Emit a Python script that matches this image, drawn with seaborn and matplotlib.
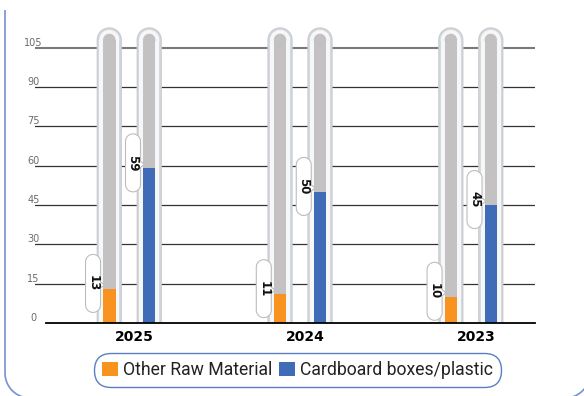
import numpy as np
import pandas as pd
import matplotlib
matplotlib.use("Agg")
import matplotlib.pyplot as plt
import matplotlib.transforms as mtransforms
from matplotlib.patches import Ellipse, PathPatch, Patch
from matplotlib.path import Path
import seaborn as sns

# ---- data -------------------------------------------------------------
years = ["2025", "2024", "2023"]
other_raw = [13, 11, 10]
cardboard = [59, 50, 45]
series_names = ["Other Raw Material", "Cardboard boxes/plastic"]
y_ticks = [0, 15, 30, 45, 60, 75, 90, 105]
tube_capacity = 108          # height of the empty tube behind each bar

# ---- style ------------------------------------------------------------
ORANGE = "#F7931E"
BLUE = "#3F6CB7"
TRACK = "#C3C1C1"
FRAME_BLUE = "#5A7EC6"

W, H, DPI = 584, 396, 100
fig = plt.figure(figsize=(W / DPI, H / DPI), dpi=DPI)
ax_left, ax_right, ax_bottom, ax_top = 35, 535, 323, 14   # pixel box of the plot area
ax = fig.add_axes([ax_left / W, (H - ax_bottom) / H,
                   (ax_right - ax_left) / W, (ax_bottom - ax_top) / H])

XLIM = (-0.552, 2.376)
YLIM = (0, 117.9)
kx = (ax_right - ax_left) / (XLIM[1] - XLIM[0])     # px per category unit
ky = (ax_bottom - ax_top) / (YLIM[1] - YLIM[0])     # px per value unit

df = pd.DataFrame({
    "year": years * 2,
    "series": [series_names[0]] * len(years) + [series_names[1]] * len(years),
    "value": other_raw + cardboard,
})
tubes = df.assign(value=tube_capacity)

GROUP_W = 0.468
slot_px = GROUP_W / 2 * kx


def draw_bars(data, width_px, colors, z, **kw):
    before = len(ax.patches)
    sns.barplot(data=data, x="year", y="value", hue="series",
                order=years, hue_order=series_names, palette=colors,
                width=GROUP_W, gap=1 - width_px / slot_px, dodge=True,
                saturation=1, errorbar=None, legend=False, ax=ax,
                linewidth=0, **kw)
    new = ax.patches[before:]
    for p in new:
        p.set_zorder(z)
    return new


def add_cap(p, color, z, edge=None):
    x, w, top = p.get_x(), p.get_width(), p.get_height()
    cap_h = w * kx / ky
    ax.add_patch(Ellipse((x + w / 2, top), w, cap_h,
                         facecolor=color, edgecolor="none", zorder=z))
    if edge is not None:
        t = np.linspace(0, np.pi, 40)
        verts = [(x, 0), (x, top)]
        verts += [(x + w / 2 - w / 2 * np.cos(a), top + cap_h / 2 * np.sin(a)) for a in t]
        verts += [(x + w, top), (x + w, 0)]
        ax.add_patch(PathPatch(Path(verts), facecolor="none", edgecolor=edge,
                               lw=0.9, zorder=z + 0.01))


pal = lambda c: {s: c for s in series_names}

outer = draw_bars(tubes, 24, pal("#D6D9DC"), 2)
band = draw_bars(tubes, 20, pal("#F6F7F8"), 2.2)
track = draw_bars(tubes, 12.5, pal(TRACK), 3)
values = draw_bars(df, 12.5, {series_names[0]: ORANGE, series_names[1]: BLUE}, 4)

ax.set_xlim(*XLIM)
ax.set_ylim(*YLIM)

for p in outer:
    add_cap(p, "#D6D9DC", 2, edge="#C9CCD0")
for p in band:
    add_cap(p, "#F6F7F8", 2.2)
for p in track:
    add_cap(p, TRACK, 3)

# ---- value callouts ---------------------------------------------------
def bubble_path(l=-17.5, r=-2.5, b=-23.5, t=34.5):
    rad = (r - l) / 2
    cx = (l + r) / 2
    v = [(r, b + rad), (r, 1.0), (1.5, 4.0), (r, 7.0), (r, t - rad)]
    v += [(cx + rad * np.cos(a), t - rad + rad * np.sin(a)) for a in np.linspace(0, np.pi, 25)]
    v += [(l, b + rad)]
    v += [(cx + rad * np.cos(a), b + rad + rad * np.sin(a)) for a in np.linspace(np.pi, 2 * np.pi, 25)]
    v = np.array(v) / DPI
    codes = [Path.MOVETO] + [Path.LINETO] * (len(v) - 1)
    v = np.vstack([v, v[:1]])
    codes.append(Path.CLOSEPOLY)
    return Path(v, codes)


bp = bubble_path()
for p in values:
    x0, val = p.get_x(), p.get_height()
    tr = fig.dpi_scale_trans + mtransforms.ScaledTranslation(x0, val, ax.transData)
    ax.add_patch(PathPatch(bp, facecolor="white", edgecolor="#BDBDBD", lw=0.8,
                           transform=tr, zorder=5, clip_on=False))
    ax.annotate(f"{val:.0f}", xy=(x0, val), xytext=(-10 * 0.72, 5.5 * 0.72),
                textcoords="offset points", rotation=-90, ha="center", va="center",
                fontsize=8.5, fontweight="bold", color="#111111", zorder=6,
                annotation_clip=False)

# ---- grid, baseline, ticks -------------------------------------------
for yv in y_ticks[1:]:
    if yv == y_ticks[-1]:
        ax.axhline(yv, color="#7A7A7A", lw=1.5, zorder=1)
    else:
        ax.axhline(yv, color="#333333", lw=0.9, zorder=1)
ax.axhline(0, xmin=(46 - ax_left) / (ax_right - ax_left), xmax=1,
           color="black", lw=1.3, zorder=6, clip_on=False)

for s in ax.spines.values():
    s.set_visible(False)
ax.set_xlabel("")
ax.set_ylabel("")
ax.set_yticks(y_ticks)
ax.set_yticklabels([str(v) for v in y_ticks])
ax.tick_params(axis="y", length=0, pad=1, labelsize=7, labelcolor="#6B6B6B")
for lab in ax.get_yticklabels():
    lab.set_ha("center")
    lab.set_va("bottom")
ax.tick_params(axis="x", length=0, pad=5, labelsize=10, labelcolor="black")
shift = mtransforms.ScaledTranslation(5 / DPI, 0, fig.dpi_scale_trans)
for lab in ax.get_xticklabels():
    lab.set_fontweight("bold")
    lab.set_transform(lab.get_transform() + shift)
ax.set_facecolor("none")

# ---- legend -----------------------------------------------------------
handles = [Patch(facecolor=ORANGE, edgecolor="none"), Patch(facecolor=BLUE, edgecolor="none")]
leg = fig.legend(handles, series_names, loc="center",
                 bbox_to_anchor=(297.5 / W, 1 - 370 / H), ncol=2,
                 prop={"family": "Roboto", "size": 12.7}, labelcolor="#222222",
                 handlelength=0.9, handleheight=0.9, handletextpad=0.28,
                 columnspacing=0.4, borderpad=0.45, frameon=True, fancybox=True,
                 framealpha=1)
frame = leg.get_frame()
frame.set_edgecolor(FRAME_BLUE)
frame.set_linewidth(1.0)
frame.set_boxstyle("round,pad=0,rounding_size=0.95")

# ---- outer card border -----------------------------------------------
r = 25
verts = [(5, 386), (5, r - 2)]
verts += [(5 + r + r * np.cos(a), r - 2 + r * np.sin(a)) for a in np.linspace(np.pi, 1.5 * np.pi, 20)]
verts += [(590 - r, -2)]
verts += [(590 - r + r * np.cos(a), r - 2 + r * np.sin(a)) for a in np.linspace(1.5 * np.pi, 2 * np.pi, 20)]
verts += [(590, 386)]
fig.add_artist(PathPatch(Path(np.array(verts) / DPI), facecolor="none",
                         edgecolor="#7592D0", lw=1.2, transform=fig.dpi_scale_trans))

fig.savefig("out.png", dpi=DPI)
